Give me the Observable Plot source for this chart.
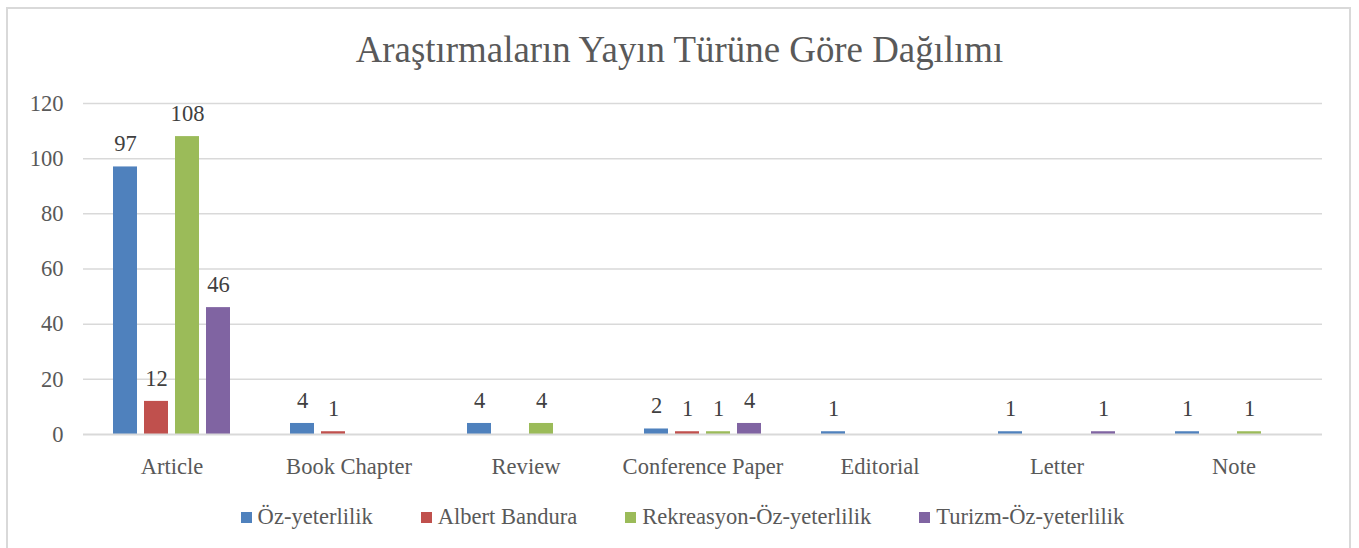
<!DOCTYPE html>
<html>
<head>
<meta charset="utf-8">
<script src="https://cdn.jsdelivr.net/npm/d3@7"></script>
<script src="https://cdn.jsdelivr.net/npm/@observablehq/plot@0.6"></script>
<style>
  html, body { margin: 0; padding: 0; background: #fff; }
  body { width: 1359px; height: 548px; position: relative; overflow: hidden; }
  #frame { position: absolute; left: 6px; top: 7px; width: 1345px; height: 600px;
           border: 2px solid #d9d9d9; box-sizing: border-box; }
  #title { position: absolute; left: 0; width: 1359px; text-align: center; color: #595959; white-space: nowrap; }
  #chart { position: absolute; left: 0; top: 80px; }
  #legend { position: absolute; left: 0; width: 1359px; display: flex;
            justify-content: center; color: #595959; padding-left: 6px; box-sizing: border-box; }
  .item { display: flex; align-items: center; margin: 0 24px; white-space: nowrap; }
  .sw { width: 11px; height: 11px; margin-right: 6px; margin-top: 1px; }
</style>
</head>
<body>
<div id="frame"></div>
<div id="title">Araştırmaların Yayın Türüne Göre Dağılımı</div>
<div id="chart"></div>
<div id="legend"></div>
<script>
const categories = ["Article", "Book Chapter", "Review", "Conference Paper", "Editorial", "Letter", "Note"];
const seriesNames = ["Öz-yeterlilik", "Albert Bandura", "Rekreasyon-Öz-yeterlilik", "Turizm-Öz-yeterlilik"];
const ozYeterlilik   = [97, 4, 4, 2, 1, 1, 1];
const albertBandura  = [12, 1, 0, 1, 0, 0, 0];
const rekreasyonOz   = [108, 0, 4, 1, 0, 0, 1];
const turizmOz       = [46, 0, 0, 4, 0, 1, 0];
const seriesColors = ["#4F81BD", "#C0504D", "#9BBB59", "#8064A2"];
const yTicks = [0, 20, 40, 60, 80, 100, 120];
const titleText = "Araştırmaların Yayın Türüne Göre Dağılımı";

// pick an installed serif font
const ctx = document.createElement("canvas").getContext("2d");
function w(font) { ctx.font = font; return ctx.measureText(titleText).width; }
const candidates = ["Liberation Serif", "Tinos", "Times New Roman", "DejaVu Serif Condensed", "DejaVu Serif", "Noto Serif"];
let fam = "serif";
for (const c of candidates) {
  if (w(`40px '${c}', monospace`) !== w("40px monospace") && w(`40px '${c}', sans-serif`) !== w("40px sans-serif")) { fam = c; break; }
}
const serif = `'${fam}', serif`;
// scale font sizes so the title is as wide as in the reference (≈650px at 36px Times)
const k = Math.min(1.05, 650 / w(`36px ${serif}`));
const fTitle = 36 * k, fText = 22 * k;

const title = document.getElementById("title");
title.style.fontFamily = serif;
title.style.fontSize = fTitle + "px";
title.style.lineHeight = fTitle + "px";
title.style.top = (63 - fTitle * 0.84) + "px";

const seriesValues = [ozYeterlilik, albertBandura, rekreasyonOz, turizmOz];
const data = [];
categories.forEach((c, i) => {
  seriesNames.forEach((s, j) => {
    data.push({category: c, series: s, value: seriesValues[j][i]});
  });
});
const nonZero = data.filter(d => d.value > 0);

const chart = Plot.plot({
  width: 1359,
  height: 399,
  marginLeft: 80,
  marginRight: 34,
  marginTop: 23,
  marginBottom: 45,
  style: {fontFamily: serif, color: "#595959", background: "transparent"},
  fx: {domain: categories, padding: 0, label: null, axis: null},
  x: {domain: seriesNames, paddingInner: 0.22, paddingOuter: 0.89, axis: null},
  y: {domain: [0, 120], label: null, axis: null},
  color: {domain: seriesNames, range: seriesColors},
  marks: [
    Plot.ruleY(yTicks.filter(t => t > 0), {stroke: "#d9d9d9", strokeWidth: 1.5}),
    Plot.axisY(yTicks, {tickSize: 0, tickPadding: 20, fontSize: fText, fill: "#595959", label: null}),
    Plot.barY(nonZero, {fx: "category", x: "series", y: "value", fill: "series"}),
    Plot.ruleY([0], {stroke: "#d9d9d9", strokeWidth: 2}),
    Plot.text(nonZero, {fx: "category", x: "series", y: "value", text: d => String(d.value),
      dy: -23, fontSize: fText, fill: "#404040"}),
    Plot.axisFx({anchor: "bottom", tickSize: 0, tickPadding: 23, fontSize: fText, fill: "#595959", label: null})
  ]
});
document.getElementById("chart").appendChild(chart);

const legend = document.getElementById("legend");
legend.style.fontFamily = serif;
legend.style.fontSize = fText + "px";
legend.style.lineHeight = fText + "px";
legend.style.top = (525 - fText * 0.84) + "px";
seriesNames.forEach((s, i) => {
  const item = document.createElement("div");
  item.className = "item";
  const sw = document.createElement("div");
  sw.className = "sw";
  sw.style.background = seriesColors[i];
  const t = document.createElement("span");
  t.textContent = s;
  item.appendChild(sw);
  item.appendChild(t);
  legend.appendChild(item);
});
</script>
</body>
</html>
